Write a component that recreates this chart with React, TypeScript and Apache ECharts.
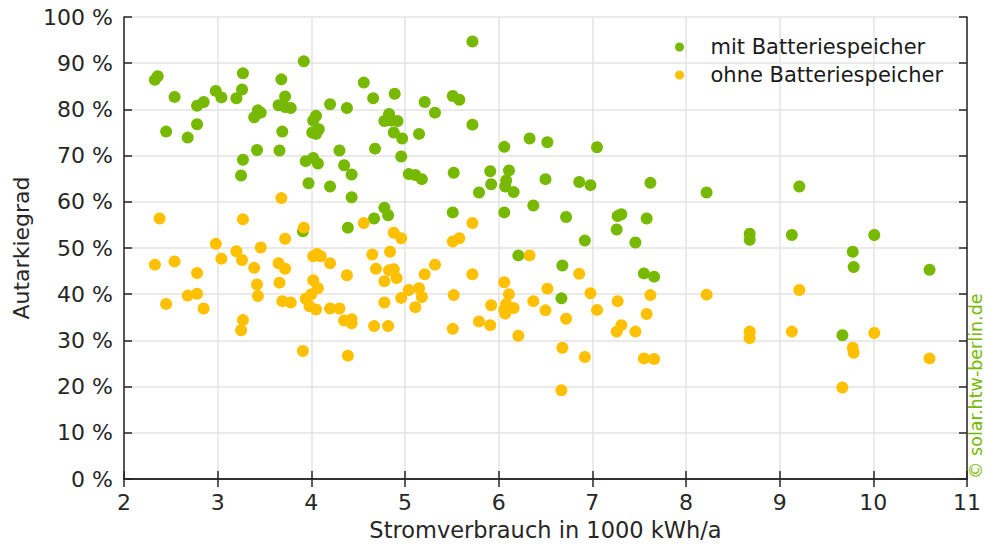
import { useEffect, useRef } from "react";
import * as echarts from "echarts";

// Stromverbrauch (1000 kWh/a) und Autarkiegrad (%) je Haushalt
const mitBatteriespeicher: [number, number][] = [
  [2.33, 86.4], [2.36, 87.2], [2.54, 82.7], [2.45, 75.2], [2.68, 73.9], [2.78, 80.8],
  [2.85, 81.6], [2.78, 76.8], [2.98, 84.0], [3.04, 82.6], [3.2, 82.4], [3.26, 84.3],
  [3.27, 87.8], [3.27, 69.1], [3.25, 65.7], [3.42, 71.2], [3.39, 78.3], [3.43, 79.8],
  [3.46, 79.3], [3.68, 86.5], [3.72, 82.8], [3.65, 80.9], [3.72, 80.5], [3.78, 80.3],
  [3.69, 75.2], [3.66, 71.1], [3.92, 90.4], [4.05, 78.6], [4.02, 77.6], [4.08, 75.7],
  [4.01, 75.0], [4.05, 74.7], [4.2, 81.1], [3.94, 68.8], [4.02, 69.5], [4.07, 68.3],
  [3.97, 64.0], [4.2, 63.3], [3.91, 53.6],
  [5.72, 94.7], [4.56, 85.8], [4.66, 82.4], [4.89, 83.4], [4.38, 80.3], [5.21, 81.6],
  [5.32, 79.3], [5.51, 82.9], [5.58, 82.1], [5.72, 76.7], [4.83, 79.0], [4.78, 77.5],
  [4.92, 77.5], [4.85, 77.6], [4.88, 75.0], [4.97, 73.7], [5.15, 74.7], [4.3, 71.1],
  [4.68, 71.5], [4.96, 69.8], [4.35, 67.9], [4.43, 65.9], [4.43, 61.0], [5.04, 66.0],
  [5.11, 65.8], [5.18, 64.9], [5.52, 66.3], [4.78, 58.7], [4.82, 57.1], [4.67, 56.4],
  [4.39, 54.4], [5.51, 57.7], [6.06, 71.9], [6.33, 73.7], [6.52, 72.9], [5.91, 66.6],
  [6.11, 66.8], [5.92, 63.8], [5.79, 62.0], [6.08, 64.6], [6.07, 63.3], [6.16, 62.1],
  [6.5, 64.9], [6.37, 59.2], [6.06, 57.7], [6.21, 48.4],
  [7.05, 71.8], [6.86, 64.3], [6.98, 63.6], [7.62, 64.1], [8.22, 62.0], [6.72, 56.7],
  [7.27, 56.9], [7.31, 57.3], [7.26, 54.0], [7.58, 56.4], [6.92, 51.6], [7.46, 51.2],
  [8.68, 53.1], [8.68, 51.8], [6.68, 46.2], [7.55, 44.5], [7.66, 43.8], [6.67, 39.1],
  [9.21, 63.3], [9.13, 52.8], [10.01, 52.8], [9.78, 49.2], [9.79, 45.9], [10.6, 45.3],
  [9.67, 31.1],
];

const ohneBatteriespeicher: [number, number][] = [
  [2.38, 56.4], [3.27, 56.2], [3.68, 60.8], [3.92, 54.4], [3.72, 52.0], [2.98, 50.9],
  [3.2, 49.3], [3.46, 50.1], [3.04, 47.7], [3.26, 47.4], [2.33, 46.4], [2.54, 47.1],
  [2.78, 44.6], [3.39, 45.7], [3.65, 46.7], [3.72, 45.5], [4.02, 48.2], [4.06, 48.7],
  [4.1, 48.2], [4.2, 46.7], [3.42, 42.1], [3.43, 39.6], [3.66, 42.5], [4.02, 43.0],
  [4.07, 41.3], [4.0, 40.0], [2.45, 37.9], [2.68, 39.7], [2.78, 40.1], [2.85, 36.9],
  [3.69, 38.5], [3.78, 38.2], [3.94, 39.0], [3.98, 37.4], [4.05, 36.7], [4.2, 36.9],
  [4.3, 36.9], [3.27, 34.4], [3.25, 32.2], [3.91, 27.7],
  [4.56, 55.4], [4.88, 53.3], [4.96, 52.1], [5.72, 55.4], [5.51, 51.4], [5.58, 52.1],
  [6.33, 48.4], [4.65, 48.6], [4.84, 49.2], [4.69, 45.5], [4.83, 45.2], [4.88, 45.4],
  [4.91, 43.5], [4.78, 42.8], [4.38, 44.1], [5.21, 44.3], [5.32, 46.4], [5.72, 44.3],
  [5.04, 40.9], [5.15, 41.3], [4.96, 39.2], [5.18, 39.4], [5.11, 37.2], [4.78, 38.2],
  [4.35, 34.3], [4.43, 34.6], [4.43, 33.7], [4.67, 33.1], [4.82, 33.1], [4.39, 26.7],
  [5.52, 39.8], [5.51, 32.5], [5.79, 34.1], [5.91, 33.3], [5.92, 37.6], [6.06, 42.6],
  [6.11, 40.0], [6.08, 37.9], [6.06, 36.7], [6.07, 35.8], [6.16, 37.0], [6.21, 31.0],
  [6.37, 38.5], [6.5, 36.5], [6.52, 41.2],
  [6.86, 44.4], [6.98, 40.2], [7.05, 36.6], [6.72, 34.7], [7.27, 38.5], [7.62, 39.8],
  [7.58, 35.7], [8.22, 39.9], [7.31, 33.3], [7.26, 31.9], [7.46, 31.9], [8.68, 31.9],
  [8.68, 30.5], [6.68, 28.4], [6.92, 26.4], [7.55, 26.1], [7.66, 26.0], [6.67, 19.2],
  [9.21, 40.9], [9.13, 31.9], [10.01, 31.6], [9.78, 28.4], [9.79, 27.3], [10.6, 26.1],
  [9.67, 19.8],
];

const seriesNames = ["mit Batteriespeicher", "ohne Batteriespeicher"];
const xRange = { min: 2, max: 11, interval: 1 };
const yRange = { min: 0, max: 100, interval: 10 };

const GREEN = "#76b900";
const YELLOW = "#ffc000";
const AXIS = "#262626";
const GRID = "#e3e3e3";
const FONT = "DejaVu Sans";

export default function App() {
  const ref = useRef<HTMLDivElement>(null);

  useEffect(() => {
    if (!ref.current) return;
    document.body.style.margin = "0";
    const chart = echarts.init(ref.current, undefined, { renderer: "svg" });

    const boxAxis = {
      axisLine: { show: true, lineStyle: { color: AXIS, width: 1.5 } },
      axisTick: { show: true, inside: true, length: 8, lineStyle: { color: AXIS, width: 1.5 } },
      axisLabel: { show: false },
      splitLine: { show: false },
    };

    chart.setOption({
      animation: false,
      backgroundColor: "#ffffff",
      textStyle: { fontFamily: FONT },
      grid: { left: 124, right: 18, top: 17, bottom: 66, containLabel: false },
      legend: {
        orient: "vertical",
        left: 670,
        top: 30,
        data: seriesNames,
        icon: "circle",
        itemWidth: 52,
        itemHeight: 9,
        itemGap: 4,
        textStyle: { fontFamily: FONT, fontSize: 21, color: "#1a1a1a", lineHeight: 24 },
      },
      xAxis: [
        {
          type: "value",
          ...xRange,
          name: "Stromverbrauch in 1000 kWh/a",
          nameLocation: "middle",
          nameGap: 39,
          nameTextStyle: { fontFamily: FONT, fontSize: 22.5, color: AXIS },
          axisLine: { show: true, lineStyle: { color: AXIS, width: 1.5 } },
          axisTick: { show: true, inside: true, length: 8, lineStyle: { color: AXIS, width: 1.5 } },
          axisLabel: { fontFamily: FONT, fontSize: 22, color: AXIS, margin: 12 },
          splitLine: { show: true, lineStyle: { color: GRID, width: 1.5 } },
        },
        { type: "value", position: "top", ...xRange, ...boxAxis },
      ],
      yAxis: [
        {
          type: "value",
          ...yRange,
          name: "Autarkiegrad",
          nameLocation: "middle",
          nameGap: 90,
          nameTextStyle: { fontFamily: FONT, fontSize: 22, color: AXIS },
          axisLine: { show: true, lineStyle: { color: AXIS, width: 1.5 } },
          axisTick: { show: true, inside: true, length: 8, lineStyle: { color: AXIS, width: 1.5 } },
          axisLabel: { fontFamily: FONT, fontSize: 22, color: AXIS, margin: 11, formatter: "{value} %" },
          splitLine: { show: true, lineStyle: { color: GRID, width: 1.5 } },
        },
        { type: "value", position: "right", ...yRange, ...boxAxis },
      ],
      series: [
        {
          name: seriesNames[0],
          type: "scatter",
          data: mitBatteriespeicher,
          symbolSize: 12,
          itemStyle: { color: GREEN, opacity: 1 },
          z: 2,
        },
        {
          name: seriesNames[1],
          type: "scatter",
          data: ohneBatteriespeicher,
          symbolSize: 12,
          itemStyle: { color: YELLOW, opacity: 1 },
          z: 3,
        },
      ],
      graphic: [
        {
          type: "text",
          x: 967,
          y: 479,
          rotation: Math.PI / 2,
          style: {
            text: "© solar.htw-berlin.de",
            fill: "#76b900",
            font: `17.5px "${FONT}"`,
            textAlign: "left",
            textVerticalAlign: "top",
          },
        },
      ],
    });

    return () => chart.dispose();
  }, []);

  return <div ref={ref} style={{ width: 985, height: 546 }} />;
}
